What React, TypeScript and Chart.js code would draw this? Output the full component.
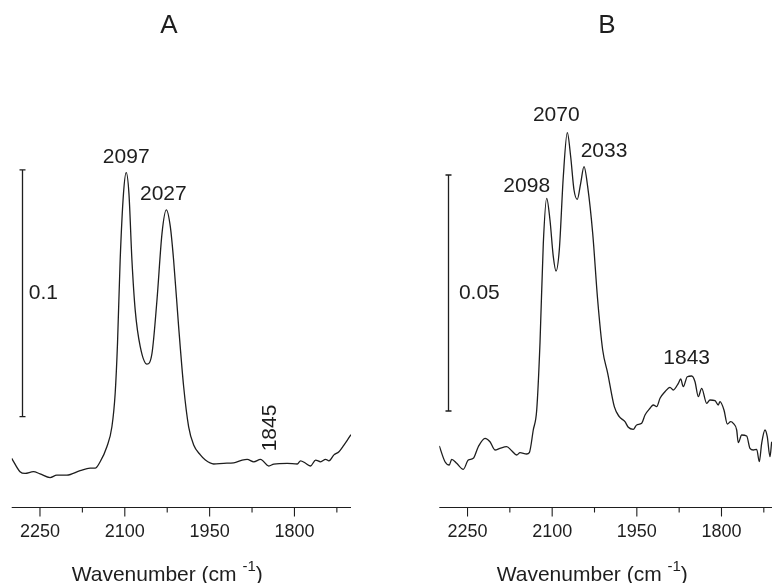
import React, { useEffect, useRef } from 'react';
import { Chart, registerables } from 'chart.js';

Chart.register(...registerables);

// ---------- Data (wavenumber in cm-1, absorbance in a.u.) ----------
const wavenumberA = [
  2300, 2285.3, 2276.4, 2261.7, 2249.9, 2232.1, 2220.3, 2202.5, 2179.0, 2161.3, 2152.4, 2143.6,
  2131.7, 2122.8, 2117.0, 2112.9, 2108.2, 2102.3, 2097.5, 2092.7, 2087.4, 2081.6, 2072.7, 2060.8,
  2051.9, 2043.1, 2034.2, 2026.6, 2019.5, 2013.7, 2004.8, 1995.9, 1987.1, 1978.2, 1966.4, 1957.5,
  1942.8, 1925.1, 1907.4, 1892.5, 1883.6, 1871.9, 1860.0, 1845.4, 1836.5, 1812.8, 1795.0, 1789.2,
  1780.3, 1771.5, 1762.6, 1753.7, 1744.9, 1739.0, 1730.2, 1721.3, 1712.5, 1706.4, 1700.0,
];
const absorbanceA = [
  0.0196, 0.0142, 0.0135, 0.0142, 0.0133, 0.0118, 0.0128, 0.0128, 0.0146, 0.0156, 0.0156, 0.0182,
  0.0243, 0.0324, 0.0460, 0.0662, 0.1000, 0.1270, 0.1354, 0.1270, 0.1000, 0.0797, 0.0649, 0.0578,
  0.0622, 0.0838, 0.1108, 0.1203, 0.1135, 0.1000, 0.0730, 0.0486, 0.0324, 0.0250, 0.0210, 0.0189,
  0.0173, 0.0176, 0.0178, 0.0189, 0.0192, 0.0182, 0.0192, 0.0165, 0.0173, 0.0176, 0.0173, 0.0186,
  0.0176, 0.0165, 0.0189, 0.0182, 0.0192, 0.0186, 0.0210, 0.0223, 0.0250, 0.0270, 0.0292,
];

const wavenumberB = [
  2300, 2289.9, 2282.3, 2278.0, 2269.2, 2257.5, 2248.6, 2239.8, 2230.9, 2219.0, 2210.2, 2201.3,
  2192.5, 2180.6, 2171.7, 2162.9, 2157.0, 2145.1, 2140.5, 2133.5, 2127.4, 2121.6, 2115.7, 2109.7,
  2103.9, 2098.0, 2093.2, 2087.4, 2080.3, 2073.2, 2067.2, 2061.3, 2055.5, 2049.5, 2043.6, 2037.1,
  2028.2, 2019.4, 2010.5, 2001.6, 1989.9, 1981.1, 1971.0, 1965.1, 1956.3, 1950.3, 1941.4, 1935.5,
  1926.7, 1920.8, 1914.8, 1908.9, 1900.1, 1891.3, 1885.4, 1876.5, 1872.3, 1867.7, 1860.6, 1852.8,
  1846.9, 1841.1, 1835.1, 1826.2, 1820.4, 1811.5, 1805.7, 1802.7, 1795.6, 1789.7, 1783.7, 1779.1,
  1773.1, 1770.3, 1764.2, 1755.4, 1749.5, 1743.7, 1737.6, 1733.0, 1728.8, 1722.9, 1718.9, 1714.1,
  1711.1,
];
const absorbanceB = [
  0.01286, 0.00953, 0.00883, 0.01004, 0.00919, 0.00792, 0.00989, 0.01025, 0.01271, 0.01449, 0.01377, 0.01201,
  0.01237, 0.01271, 0.01186, 0.01095, 0.01144, 0.01117, 0.01144, 0.01625, 0.02049, 0.03462, 0.05581, 0.06534,
  0.06074, 0.05297, 0.04994, 0.05439, 0.06992, 0.07924, 0.07415, 0.06710, 0.06513, 0.06852, 0.07203, 0.06780,
  0.05792, 0.04379, 0.03320, 0.02826, 0.02119, 0.01907, 0.01801, 0.01682, 0.01640, 0.01731, 0.01767, 0.01943,
  0.02085, 0.02155, 0.02119, 0.02297, 0.02436, 0.02530, 0.02472, 0.02614, 0.02706, 0.02542, 0.02754, 0.02769,
  0.02648, 0.02331, 0.02508, 0.02191, 0.02261, 0.02246, 0.02155, 0.02225, 0.02049, 0.01752, 0.01801, 0.01767,
  0.01625, 0.01356, 0.01519, 0.01498, 0.01237, 0.01201, 0.01216, 0.00953, 0.01343, 0.01625, 0.01483, 0.01059,
  0.01377,
];

const majorTicks = [2250, 2100, 1950, 1800];
const minorTicks = [2175, 2025, 1875, 1725];

const peakTextA = ['2097', '2027', '1845'];
const peakWavenumberA = [2097.5, 2026.6, 1845.4];
const peakTextB = ['2098', '2070', '2033', '1843'];
const peakWavenumberB = [2109.7, 2073.2, 2043.6, 1852.8];

// ---------- Styling ----------
const FONT = '"Liberation Sans", Arial, Helvetica, sans-serif';
const INK = '#1e1e1e';

type LabelStyle = { dx: number; dy: number; rotate?: boolean };

type PanelConfig = {
  title: string;
  titleX: number;
  wavenumbers: number[];
  absorbances: number[];
  xMin: number;
  yMax: number;
  padding: { left: number; right: number; top: number; bottom: number };
  scaleBarX: number;
  scaleBarBottom: number;
  scaleBarSize: number;
  scaleBarText: string;
  scaleBarTextGap: number;
  peakText: string[];
  peakWavenumber: number[];
  peakStyle: LabelStyle[];
  axisTitleCenter: number;
};

const panels: PanelConfig[] = [
  {
    title: 'A',
    titleX: 169,
    wavenumbers: wavenumberA,
    absorbances: absorbanceA,
    xMin: 1700,
    yMax: 0.2,
    padding: { left: 11.7, right: 35, top: 13.3, bottom: 76.3 },
    scaleBarX: 2281.7,
    scaleBarBottom: 0.0365,
    scaleBarSize: 0.1,
    scaleBarText: '0.1',
    scaleBarTextGap: 6.3,
    peakText: peakTextA,
    peakWavenumber: peakWavenumberA,
    peakStyle: [
      { dx: 0, dy: -15 },
      { dx: -3, dy: -16 },
      { dx: 0, dy: -38, rotate: true },
    ],
    axisTitleCenter: 2025,
  },
  {
    title: 'B',
    titleX: 221,
    wavenumbers: wavenumberB,
    absorbances: absorbanceB,
    xMin: 1710.5,
    yMax: 0.1,
    padding: { left: 53.3, right: 0, top: 34.7, bottom: 76.3 },
    scaleBarX: 2284,
    scaleBarBottom: 0.02028,
    scaleBarSize: 0.05,
    scaleBarText: '0.05',
    scaleBarTextGap: 10.4,
    peakText: peakTextB,
    peakWavenumber: peakWavenumberB,
    peakStyle: [
      { dx: -20, dy: -12 },
      { dx: -11, dy: -17 },
      { dx: 20, dy: -16 },
      { dx: -5, dy: -18 },
    ],
    axisTitleCenter: 2029,
  },
];

function makeDecorPlugin(cfg: PanelConfig) {
  return {
    id: 'spectrumDecor',
    afterDraw(chart: any) {
      const ctx: CanvasRenderingContext2D = chart.ctx;
      const xs = chart.scales.x;
      const ys = chart.scales.y;
      const area = chart.chartArea;
      ctx.save();
      ctx.strokeStyle = INK;
      ctx.fillStyle = INK;
      ctx.lineWidth = 1.2;

      // axis line
      const axisY = Math.round(area.bottom) + 0.5;
      ctx.beginPath();
      ctx.moveTo(area.left, axisY);
      ctx.lineTo(area.right, axisY);
      ctx.stroke();

      // ticks
      ctx.lineWidth = 1.1;
      majorTicks.forEach((t) => {
        const px = xs.getPixelForValue(t);
        ctx.beginPath();
        ctx.moveTo(px, axisY);
        ctx.lineTo(px, axisY + 9);
        ctx.stroke();
      });
      minorTicks.forEach((t) => {
        const px = xs.getPixelForValue(t);
        if (px > area.right + 0.5) return;
        ctx.beginPath();
        ctx.moveTo(px, axisY);
        ctx.lineTo(px, axisY + 5);
        ctx.stroke();
      });

      // tick labels
      ctx.font = `18px ${FONT}`;
      ctx.textAlign = 'center';
      ctx.textBaseline = 'middle';
      majorTicks.forEach((t) => {
        ctx.fillText(String(t), xs.getPixelForValue(t), axisY + 25);
      });

      // axis title with superscript
      const main = 'Wavenumber (cm ';
      const sup = '-1';
      const close = ')';
      ctx.font = `21px ${FONT}`;
      const wMain = ctx.measureText(main).width;
      const wClose = ctx.measureText(close).width;
      ctx.font = `15px ${FONT}`;
      const wSup = ctx.measureText(sup).width;
      const total = wMain + wSup + wClose;
      let x0 = xs.getPixelForValue(cfg.axisTitleCenter) - total / 2;
      ctx.textAlign = 'left';
      ctx.textBaseline = 'alphabetic';
      const titleBase = axisY + 73;
      ctx.font = `21px ${FONT}`;
      ctx.fillText(main, x0, titleBase);
      ctx.font = `15px ${FONT}`;
      ctx.fillText(sup, x0 + wMain, titleBase - 10);
      ctx.font = `21px ${FONT}`;
      ctx.fillText(close, x0 + wMain + wSup, titleBase);

      // scale bar
      const bx = Math.round(xs.getPixelForValue(cfg.scaleBarX)) + 0.5;
      const by0 = ys.getPixelForValue(cfg.scaleBarBottom);
      const by1 = ys.getPixelForValue(cfg.scaleBarBottom + cfg.scaleBarSize);
      ctx.lineWidth = 1.3;
      ctx.beginPath();
      ctx.moveTo(bx, by0);
      ctx.lineTo(bx, by1);
      ctx.moveTo(bx - 3, by0);
      ctx.lineTo(bx + 3, by0);
      ctx.moveTo(bx - 3, by1);
      ctx.lineTo(bx + 3, by1);
      ctx.stroke();
      ctx.font = `21px ${FONT}`;
      ctx.textAlign = 'left';
      ctx.textBaseline = 'middle';
      ctx.fillText(cfg.scaleBarText, bx + cfg.scaleBarTextGap, (by0 + by1) / 2);

      // peak labels
      ctx.font = `21px ${FONT}`;
      ctx.textAlign = 'center';
      ctx.textBaseline = 'middle';
      cfg.peakText.forEach((txt, i) => {
        const wn = cfg.peakWavenumber[i];
        let best = 0;
        cfg.wavenumbers.forEach((w, j) => {
          if (Math.abs(w - wn) < Math.abs(cfg.wavenumbers[best] - wn)) best = j;
        });
        const st = cfg.peakStyle[i];
        const px = xs.getPixelForValue(cfg.wavenumbers[best]) + st.dx;
        const py = ys.getPixelForValue(cfg.absorbances[best]) + st.dy;
        if (st.rotate) {
          ctx.save();
          ctx.translate(px, py);
          ctx.rotate(-Math.PI / 2);
          ctx.fillText(txt, 0, 1);
          ctx.restore();
        } else {
          ctx.fillText(txt, px, py);
        }
      });

      // panel title
      ctx.font = `26px ${FONT}`;
      ctx.textAlign = 'center';
      ctx.textBaseline = 'middle';
      ctx.fillText(cfg.title, cfg.titleX, 26);

      ctx.restore();
    },
  };
}

function SpectrumPanel({ cfg }: { cfg: PanelConfig }) {
  const ref = useRef<HTMLCanvasElement | null>(null);
  useEffect(() => {
    if (!ref.current) return;
    const chart = new Chart(ref.current, {
      type: 'line',
      data: {
        datasets: [
          {
            data: cfg.wavenumbers.map((w, i) => ({ x: w, y: cfg.absorbances[i] })),
            borderColor: INK,
            borderWidth: 1.3,
            pointRadius: 0,
            fill: false,
            cubicInterpolationMode: 'monotone',
          },
        ],
      },
      options: {
        responsive: false,
        animation: false,
        devicePixelRatio: 1,
        layout: { padding: cfg.padding },
        plugins: {
          legend: { display: false },
          tooltip: { enabled: false },
          title: { display: false },
        },
        scales: {
          x: { type: 'linear', reverse: true, min: cfg.xMin, max: 2300, display: false },
          y: { type: 'linear', min: 0, max: cfg.yMax, display: false },
        },
      },
      plugins: [makeDecorPlugin(cfg)],
    } as any);
    return () => chart.destroy();
  }, [cfg]);
  return <canvas ref={ref} width={386} height={583} style={{ display: 'block', width: 386, height: 583 }} />;
}

export default function App() {
  return (
    <div
      style={{
        position: 'absolute',
        left: 0,
        top: 0,
        width: 772,
        height: 583,
        display: 'flex',
        background: '#ffffff',
      }}
    >
      {panels.map((p) => (
        <SpectrumPanel key={p.title} cfg={p} />
      ))}
    </div>
  );
}
